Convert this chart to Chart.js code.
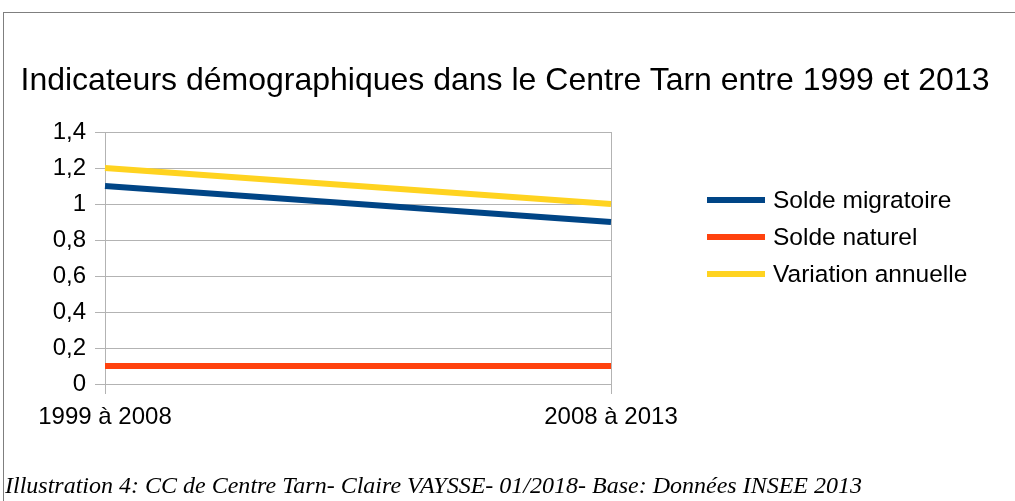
<!DOCTYPE html>
<html>
<head>
<meta charset="utf-8">
<script src="https://cdn.jsdelivr.net/npm/chart.js@4/dist/chart.umd.min.js"></script>
<style>
    body { margin: 0; background: #ffffff; }
    #wrap { position: relative; width: 1015px; height: 501px; overflow: hidden; background: #ffffff; }
    #frame { position: absolute; left: 3px; top: 12px; width: 1100px; height: 600px; border: 1px solid #7f7f7f; }
    #chart-canvas { position: absolute; left: 0; top: 0; }
    #title { position: absolute; left: 0; width: 1010px; top: 61px; text-align: center;
             font-family: "Liberation Sans", Arial, sans-serif; font-size: 32px; color: #000; white-space: nowrap; }
    #legend { position: absolute; left: 707px; top: 181px; font-family: "Liberation Sans", Arial, sans-serif; font-size: 24.5px; color: #000; }
    .legend-row { height: 37px; display: flex; align-items: center; }
    .legend-line { width: 58px; height: 6px; margin-right: 8px; }
    #caption { position: absolute; left: 5px; top: 472px; font-family: "Liberation Serif", "Times New Roman", serif;
               font-style: italic; font-size: 24px; color: #000; white-space: nowrap; transform-origin: left top; }
</style>
</head>
<body>
<div id="wrap">
    <div id="frame"></div>
    <canvas id="chart-canvas" width="1015" height="501"></canvas>
    <div id="title">Indicateurs démographiques dans le Centre Tarn entre 1999 et 2013</div>
    <div id="legend"></div>
    <div id="caption">Illustration 4: CC de Centre Tarn- Claire VAYSSE- 01/2018- Base: Données INSEE 2013</div>
</div>

<script>
// data
const periods = ['1999 à 2008', '2008 à 2013'];
const soldeMigratoire = [1.1, 0.9];
const soldeNaturel = [0.1, 0.1];
const variationAnnuelle = [1.2, 1.0];
const seriesNames = ['Solde migratoire', 'Solde naturel', 'Variation annuelle'];

// LibreOffice default palette
const COLOR_BLUE = '#004586';
const COLOR_ORANGE = '#ff420e';
const COLOR_YELLOW = '#ffd320';
const COLOR_GRID = '#b3b3b3';

const FONT = '"Liberation Sans", Arial, sans-serif';

function makeLine(label, values, color) {
    return {
        label: label,
        data: values,
        borderColor: color,
        backgroundColor: color,
        borderWidth: 6,
        pointRadius: 0,
        tension: 0,
        fill: false
    };
}

const datasets = [
    makeLine(seriesNames[0], soldeMigratoire, COLOR_BLUE),
    makeLine(seriesNames[1], soldeNaturel, COLOR_ORANGE),
    makeLine(seriesNames[2], variationAnnuelle, COLOR_YELLOW)
];

// comma decimals like the original
function frenchNumber(v) {
    const r = Math.round(v * 10) / 10;
    return String(r).replace('.', ',');
}

new Chart(document.getElementById('chart-canvas'), {
    type: 'line',
    data: { labels: periods, datasets: datasets },
    options: {
        responsive: false,
        animation: false,
        layout: { padding: { left: 0, top: 132, right: 404, bottom: 57 } },
        plugins: {
            legend: { display: false },
            title: { display: false },
            tooltip: { enabled: false }
        },
        scales: {
            x: {
                offset: false,
                afterFit: function(scale) { scale.height = 60; },
                grid: { color: COLOR_GRID, lineWidth: 1, tickLength: 10, drawTicks: true },
                border: { color: COLOR_GRID },
                ticks: { color: '#000', font: { family: FONT, size: 24 }, padding: 9, maxRotation: 0 }
            },
            y: {
                min: 0,
                max: 1.4,
                afterFit: function(scale) { scale.width = 105; },
                grid: { color: COLOR_GRID, lineWidth: 1, tickLength: 10 },
                border: { color: COLOR_GRID },
                ticks: {
                    stepSize: 0.2,
                    color: '#000',
                    font: { family: FONT, size: 24 },
                    padding: 9,
                    callback: function(v) { return frenchNumber(v); }
                }
            }
        }
    }
});

// legend built from the datasets
const legend = document.getElementById('legend');
for (let i = 0; i < datasets.length; i++) {
    const row = document.createElement('div');
    row.className = 'legend-row';
    const line = document.createElement('div');
    line.className = 'legend-line';
    line.style.background = datasets[i].borderColor;
    const text = document.createElement('span');
    text.textContent = datasets[i].label;
    row.appendChild(line);
    row.appendChild(text);
    legend.appendChild(row);
}

// the caption in the picture is squeezed to about 857px wide
const caption = document.getElementById('caption');
const w = caption.getBoundingClientRect().width;
caption.style.transform = 'scaleX(' + (857 / w) + ')';
</script>
</body>
</html>
